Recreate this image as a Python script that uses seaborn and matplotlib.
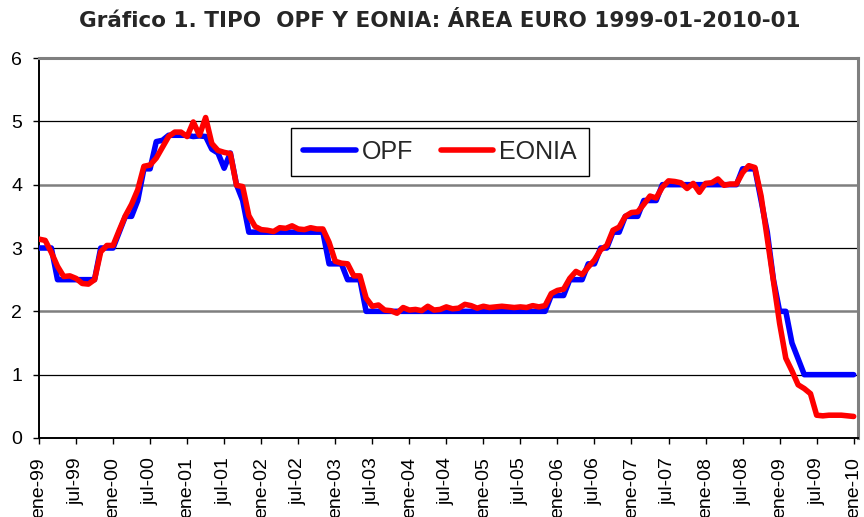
import matplotlib
matplotlib.use("Agg")
import matplotlib.pyplot as plt
import numpy as np
import pandas as pd
import seaborn as sns

# ---- data (monthly, 1999-01 .. 2010-01) ----
tick_labels = ["ene-99", "jul-99", "ene-00", "jul-00", "ene-01", "jul-01", "ene-02", "jul-02",
               "ene-03", "jul-03", "ene-04", "jul-04", "ene-05", "jul-05", "ene-06", "jul-06",
               "ene-07", "jul-07", "ene-08", "jul-08", "ene-09", "jul-09", "ene-10"]

opf = [
    3.0, 3.0, 3.0, 2.5, 2.5, 2.5, 2.5, 2.5, 2.5, 2.5, 3.0, 3.0,          # 1999
    3.0, 3.25, 3.5, 3.5, 3.75, 4.25, 4.25, 4.68, 4.7, 4.78, 4.78, 4.78,  # 2000
    4.78, 4.76, 4.77, 4.76, 4.56, 4.5, 4.26, 4.5, 4.0, 3.75, 3.25, 3.25, # 2001
    3.25, 3.25, 3.25, 3.25, 3.25, 3.25, 3.25, 3.25, 3.25, 3.25, 3.25, 2.75,  # 2002
    2.75, 2.75, 2.5, 2.5, 2.5, 2.0, 2.0, 2.0, 2.0, 2.0, 2.0, 2.0,        # 2003
    2.0, 2.0, 2.0, 2.0, 2.0, 2.0, 2.0, 2.0, 2.0, 2.0, 2.0, 2.0,          # 2004
    2.0, 2.0, 2.0, 2.0, 2.0, 2.0, 2.0, 2.0, 2.0, 2.0, 2.0, 2.25,         # 2005
    2.25, 2.25, 2.5, 2.5, 2.5, 2.75, 2.75, 3.0, 3.0, 3.25, 3.25, 3.5,    # 2006
    3.5, 3.5, 3.75, 3.75, 3.75, 4.0, 4.0, 4.0, 4.0, 4.0, 4.0, 4.0,       # 2007
    4.0, 4.0, 4.0, 4.0, 4.0, 4.0, 4.25, 4.25, 4.25, 3.75, 3.25, 2.5,     # 2008
    2.0, 2.0, 1.5, 1.25, 1.0, 1.0, 1.0, 1.0, 1.0, 1.0, 1.0, 1.0,         # 2009
    1.0,                                                                 # 2010
]

eonia = [
    3.14, 3.12, 2.93, 2.71, 2.55, 2.56, 2.52, 2.44, 2.43, 2.50, 2.94, 3.04,  # 1999
    3.04, 3.28, 3.51, 3.69, 3.92, 4.29, 4.31, 4.42, 4.59, 4.76, 4.83, 4.83,  # 2000
    4.76, 4.99, 4.78, 5.06, 4.65, 4.54, 4.51, 4.49, 3.99, 3.97, 3.51, 3.34,  # 2001
    3.29, 3.28, 3.26, 3.32, 3.31, 3.35, 3.30, 3.29, 3.32, 3.30, 3.30, 3.09,  # 2002
    2.79, 2.76, 2.75, 2.56, 2.56, 2.21, 2.08, 2.10, 2.02, 2.01, 1.97, 2.06,  # 2003
    2.02, 2.03, 2.01, 2.08, 2.02, 2.03, 2.07, 2.04, 2.05, 2.11, 2.09, 2.05,  # 2004
    2.08, 2.06, 2.07, 2.08, 2.07, 2.06, 2.07, 2.06, 2.09, 2.07, 2.09, 2.28,  # 2005
    2.33, 2.35, 2.52, 2.63, 2.58, 2.70, 2.81, 2.97, 3.04, 3.28, 3.33, 3.50,  # 2006
    3.56, 3.57, 3.69, 3.82, 3.79, 3.96, 4.06, 4.05, 4.03, 3.94, 4.02, 3.88,  # 2007
    4.02, 4.03, 4.09, 3.99, 4.01, 4.01, 4.19, 4.30, 4.27, 3.82, 3.15, 2.49,  # 2008
    1.81, 1.26, 1.06, 0.84, 0.78, 0.70, 0.36, 0.35, 0.36, 0.36, 0.36, 0.35,  # 2009
    0.34,                                                                    # 2010
]

series_names = ["OPF", "EONIA"]
series_colors = {"OPF": "#0000FF", "EONIA": "#FF0000"}
title = "Gráfico 1. TIPO  OPF Y EONIA: ÁREA EURO 1999-01-2010-01"

n = len(opf)
df = pd.DataFrame({
    "mes": list(range(n)) * 2,
    "valor": opf + eonia,
    "serie": ["OPF"] * n + ["EONIA"] * n,
})

sns.set_theme(style="white")
plt.rcParams["font.family"] = ["Liberation Sans", "DejaVu Sans"]

W, H = 864, 517
fig = plt.figure(figsize=(W / 100, H / 100), dpi=100)
x0, x1, y0, y1 = 39, 858, 58, 438
ax = fig.add_axes([x0 / W, 1 - y1 / H, (x1 - x0) / W, (y1 - y0) / H])

sns.lineplot(data=df, x="mes", y="valor", hue="serie", hue_order=series_names,
             palette=series_colors, linewidth=4, legend=False, sort=False, ax=ax)
data_lines = list(ax.lines[:2])
for ln in data_lines:
    ln.set_solid_joinstyle("round")
    ln.set_solid_capstyle("round")
    ln.set_zorder(3)
data_lines[1].set_zorder(4)

ax.set_xlim(0, 132.7)
ax.set_ylim(0, 6)
ax.set_yticks(range(7))
ax.set_xticks(range(0, n, 6))
ax.set_xticklabels(tick_labels, rotation=90)
ax.set_xlabel("")
ax.set_ylabel("")

# horizontal gridlines
for v in range(1, 6):
    if v % 2 == 1:
        ax.axhline(v, color="black", lw=0.9, zorder=1)
    else:
        ax.axhline(v, color="#7f7f7f", lw=1.8, zorder=1)

ax.tick_params(axis="both", which="major", direction="out", length=4, width=1,
               color="black", labelsize=14, pad=8, left=True, bottom=True,
               labelcolor="black")
ax.tick_params(axis="x", pad=10)

for side in ["left", "bottom"]:
    ax.spines[side].set_color("black")
    ax.spines[side].set_linewidth(1.4)
for side in ["top", "right"]:
    ax.spines[side].set_color("#7f7f7f")
    ax.spines[side].set_linewidth(2.2)

leg = ax.legend(handles=data_lines, labels=series_names, ncol=2, loc="upper left",
                bbox_to_anchor=(291 / W, 1 - 128 / H), bbox_transform=fig.transFigure,
                fontsize=18, frameon=True, fancybox=False, framealpha=1,
                edgecolor="black", handlelength=2.1, handletextpad=0.25,
                columnspacing=1.1, borderpad=0.48, borderaxespad=0)
leg.get_frame().set_linewidth(1.0)
for lh in leg.get_lines():
    lh.set_linewidth(4)

fig.text(440 / W, 1 - 21 / H, title, ha="center", va="center", fontsize=15.5,
         fontweight="bold", family=["DejaVu Sans"])

fig.savefig("out.png", dpi=100)
